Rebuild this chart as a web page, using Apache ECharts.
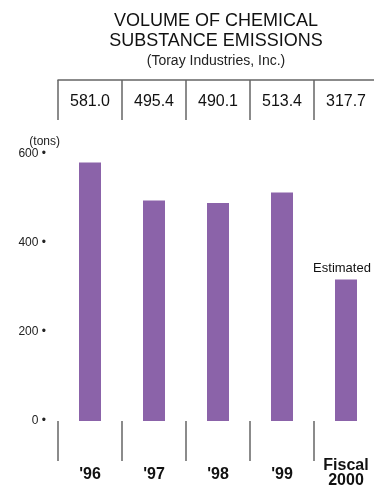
<!DOCTYPE html>
<html>
<head>
<meta charset="utf-8">
<script src="https://cdn.jsdelivr.net/npm/echarts@6/dist/echarts.min.js"></script>
<style>
html,body{margin:0;padding:0;background:#fff;overflow:hidden;}
#chart{width:378px;height:492px;}
</style>
</head>
<body>
<div id="chart"></div>
<script>
var categories = ["'96", "'97", "'98", "'99", "Fiscal\n2000"];
var values = [581.0, 495.4, 490.1, 513.4, 317.7];
var notes = ["", "", "", "", "Estimated"];
var yTicks = [0, 200, 400, 600];

var barColor = '#8b63a9';
var SANS = "'Liberation Sans', Arial, sans-serif";
var chart = echarts.init(document.getElementById('chart'), null, {renderer: 'canvas'});

var barData = values.map(function (v, i) {
  var item = {value: v};
  if (notes[i]) {
    item.label = {
      show: true, position: 'top', formatter: notes[i], distance: 5, offset: [-4, 0],
      fontFamily: SANS, fontSize: 13, color: '#111'
    };
  }
  return item;
});

chart.setOption({
  animation: false,
  backgroundColor: '#fff',
  title: {
    text: 'VOLUME OF CHEMICAL\nSUBSTANCE EMISSIONS',
    subtext: '(Toray Industries, Inc.)',
    left: 216, top: 11, textAlign: 'center', itemGap: 3, padding: 0,
    textStyle: {fontFamily: SANS, fontSize: 18, fontWeight: 'normal', color: '#111', lineHeight: 20},
    subtextStyle: {fontFamily: SANS, fontSize: 14, color: '#222', lineHeight: 14}
  },
  grid: {left: 58, top: 154, right: 0, height: 267, containLabel: false},
  yAxis: {
    type: 'value', min: yTicks[0], max: yTicks[yTicks.length - 1], interval: 200,
    name: '(tons)', nameLocation: 'end', nameGap: 6,
    nameTextStyle: {fontFamily: SANS, fontSize: 12, color: '#222', align: 'right', padding: [0, -2, 0, 0]},
    axisLine: {show: false}, axisTick: {show: false}, splitLine: {show: false},
    axisLabel: {formatter: '{value} •', margin: 12, fontFamily: SANS, fontSize: 12, color: '#222'}
  },
  xAxis: [
    {
      type: 'category', data: categories, position: 'bottom', offset: 32,
      axisLine: {show: false},
      axisTick: {show: true, length: 40, lineStyle: {color: '#666', width: 1.5}},
      axisLabel: {
        margin: 22, verticalAlign: 'middle', interval: 0,
        fontFamily: SANS, fontWeight: 'bold', fontSize: 16, color: '#111', lineHeight: 15,
        formatter: function (v) {
          return v.indexOf('\n') >= 0 ? '{f|' + v.replace('\n', '}\n{f|') + '}' : v;
        },
        rich: {f: {fontFamily: SANS, fontWeight: 'bold', fontSize: 16, color: '#111', lineHeight: 15, padding: [0, 0, 3, 0]}}
      }
    },
    {
      type: 'category', data: values.map(function (v) { return v.toFixed(1); }), position: 'top', offset: 74,
      axisLine: {show: true, lineStyle: {color: '#666', width: 1.5}},
      axisTick: {show: true, inside: true, length: 40, lineStyle: {color: '#666', width: 1.5}},
      axisLabel: {inside: true, margin: 22, verticalAlign: 'middle', interval: 0,
        fontFamily: SANS, fontSize: 16, color: '#111'}
    }
  ],
  series: [{
    type: 'bar', xAxisIndex: 0, data: barData, barWidth: 22,
    itemStyle: {color: barColor}
  }]
});
</script>
</body>
</html>
